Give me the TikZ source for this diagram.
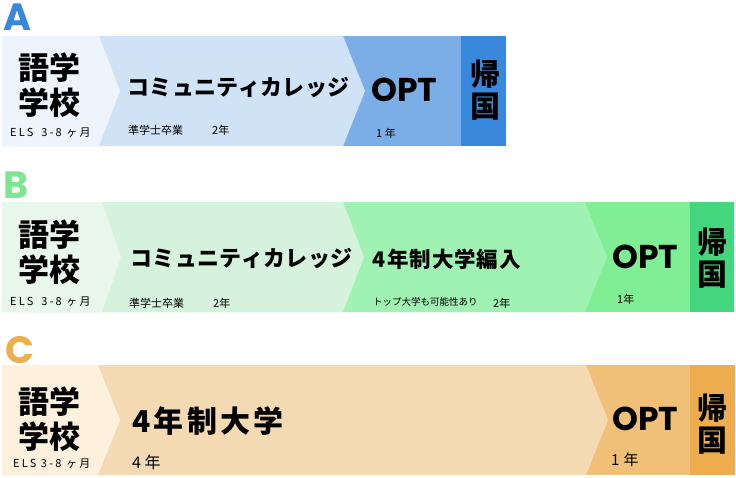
\documentclass[tikz,border=0pt]{standalone}
\usepackage{fontspec}
\newfontfamily\jp{Noto Sans CJK JP}
\newfontfamily\pop{Poppins}
\definecolor{aone}{HTML}{EEF4FC}
\definecolor{atwo}{HTML}{CFE2F6}
\definecolor{athree}{HTML}{7BAEE6}
\definecolor{afour}{HTML}{3A88DB}
\definecolor{bone}{HTML}{E8F6EC}
\definecolor{btwo}{HTML}{D5F3DC}
\definecolor{bthree}{HTML}{9FF2B1}
\definecolor{bfour}{HTML}{80EE95}
\definecolor{bfive}{HTML}{44D67C}
\definecolor{blabel}{HTML}{7CE690}
\definecolor{cone}{HTML}{FDF0DC}
\definecolor{ctwo}{HTML}{F4DAB2}
\definecolor{cthree}{HTML}{F0BF78}
\definecolor{cfour}{HTML}{EDAC4E}
\definecolor{clabel}{HTML}{EDAE4C}
\tikzset{
  rowlabel/.style={font=\pop\bfseries\fontsize{38}{40}\selectfont, inner sep=0pt},
  school/.style={font=\jp\bfseries\fontsize{31}{35}\selectfont, align=center, inner sep=0pt},
  kikoku/.style={font=\jp\bfseries\fontsize{30}{32}\selectfont, align=center, inner sep=0pt},
  stage/.style={font=\jp\bfseries\fontsize{22}{24}\selectfont\addfontfeatures{LetterSpace=2}, anchor=west, inner sep=0pt},
  opt/.style={font=\pop\bfseries\fontsize{33}{35}\selectfont, anchor=west, inner sep=0pt},
  note/.style={font=\jp\fontsize{11}{12}\selectfont, anchor=west, inner sep=0pt},
  els/.style={font=\jp\fontsize{11}{12}\selectfont\addfontfeatures{LetterSpace=20}, anchor=west, inner sep=0pt},
}
\begin{document}
\begin{tikzpicture}[x=1pt,y=-1pt]
\useasboundingbox (0,0) rectangle (736,477);
\fill[white] (0,0) rectangle (736,477);
% ---------- Row A ----------
\fill[afour] (2,36) rectangle (506,146);
\fill[athree] (2,36) rectangle (461,146);
\fill[atwo] (2,36) -- (343,36) -- (365,91) -- (343,146) -- (2,146) -- cycle;
\fill[aone] (2,36) -- (99,36) -- (120,91) -- (99,146) -- (2,146) -- cycle;
\node[rowlabel, text=afour] (la) at (18,17.5) {A};
\node[school] (a1) at (49,85) {語学\\学校};
\node[els] (a1n) at (10,133) {ELS\hspace{8pt}3-8 ヶ月};
\node[stage] (a2) at (127,88) {コミュニティカレッジ};
\node[note] (a2n) at (128,130) {準学士卒業\hspace{29pt}2年};
\node[opt] (a3) at (371,90) {OPT};
\node[note] (a3n) at (376,133) {1 年};
\node[kikoku] (a4) at (485,90.5) {帰\\国};
% ---------- Row B ----------
\fill[bfive] (2,202) rectangle (734,312);
\fill[bfour] (2,202) rectangle (690,312);
\fill[bthree] (2,202) -- (585,202) -- (607,257) -- (585,312) -- (2,312) -- cycle;
\fill[btwo] (2,202) -- (343,202) -- (364,257) -- (343,312) -- (2,312) -- cycle;
\fill[bone] (2,202) -- (102,202) -- (121,257) -- (102,312) -- (2,312) -- cycle;
\node[rowlabel, text=blabel] (lb) at (16,185.5) {B};
\node[school] (b1) at (49,252) {語学\\学校};
\node[els] (b1n) at (10,302) {ELS\hspace{8pt}3-8 ヶ月};
\node[stage] (b2) at (130,259) {コミュニティカレッジ};
\node[note] (b2n) at (129,303) {準学士卒業\hspace{29pt}2年};
\node[stage, font=\jp\bfseries\fontsize{21.5}{24}\selectfont\addfontfeatures{LetterSpace=4}] (b3) at (372,259) {4\kern2pt 年制大学編入};
\node[note, font=\jp\fontsize{9.5}{11}\selectfont] (b3n) at (373,302) {トップ大学も可能性あり};
\node[note] (b3y) at (493,303) {2年};
\node[opt] (b4) at (612,257) {OPT};
\node[note] (b4n) at (617,299) {1年};
\node[kikoku] (b5) at (712,258) {帰\\国};
% ---------- Row C ----------
\fill[cfour] (2,365) rectangle (735,475);
\fill[cthree] (2,365) rectangle (690,475);
\fill[ctwo] (2,365) -- (586,365) -- (608,420) -- (586,475) -- (2,475) -- cycle;
\fill[cone] (2,365) -- (98,365) -- (120,420) -- (98,475) -- (2,475) -- cycle;
\node[rowlabel, text=clabel] (lc) at (20,350) {C};
\node[school] (c1) at (49,419) {語学\\学校};
\node[els] (c1n) at (13,464) {ELS 3-8 ヶ月};
\node[stage, font=\jp\bfseries\fontsize{30}{32}\selectfont\addfontfeatures{LetterSpace=11}] (c2) at (132,421) {4年制大学};
\node[note, font=\jp\fontsize{16}{18}\selectfont] (c2n) at (132,462) {4\kern3.5pt 年};
\node[opt] (c3) at (612,419) {OPT};
\node[note, font=\jp\fontsize{15}{17}\selectfont] (c3n) at (611,460) {1\kern4pt 年};
\node[kikoku] (c4) at (712,424) {帰\\国};
\end{tikzpicture}
\end{document}
